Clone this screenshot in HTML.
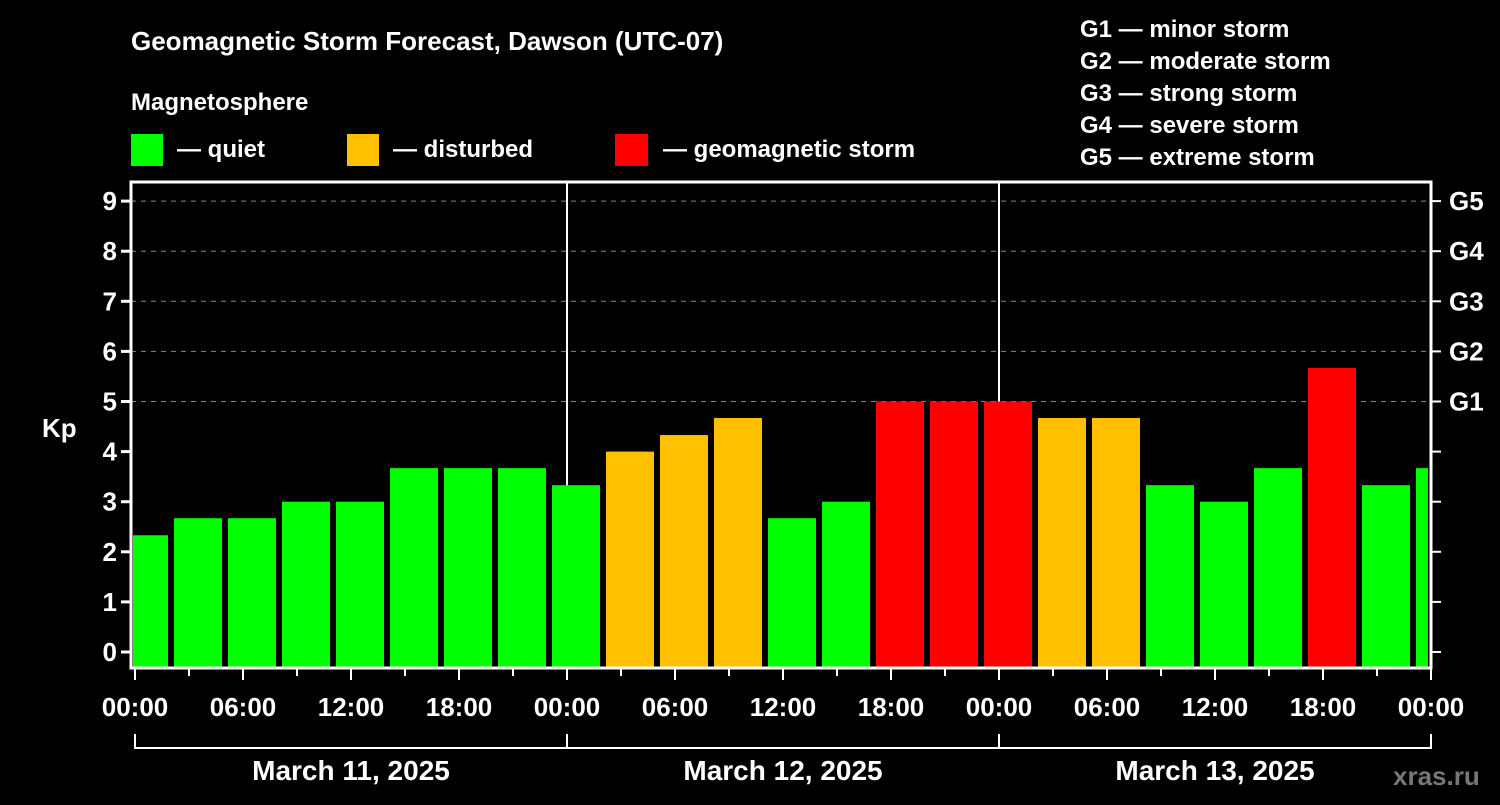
<!DOCTYPE html>
<html><head><meta charset="utf-8"><style>
body{margin:0;background:#000;width:1500px;height:800px;overflow:hidden}
svg{font-family:"Liberation Sans",sans-serif;font-weight:bold}
</style></head><body>
<svg id="c" width="1500" height="800">
<text x="131" y="50" fill="#fff" font-size="26">Geomagnetic Storm Forecast, Dawson (UTC-07)</text>
<text x="131" y="110" fill="#fff" font-size="24">Magnetosphere</text>
<g><rect x="131" y="134" width="32" height="32" fill="#00ff00"/><text x="177" y="157" fill="#fff" font-size="24">— quiet</text></g>
<g><rect x="347" y="134" width="32" height="32" fill="#ffc000"/><text x="393" y="157" fill="#fff" font-size="24">— disturbed</text></g>
<g><rect x="615" y="134" width="33" height="32" fill="#ff0000"/><text x="663" y="157" fill="#fff" font-size="24">— geomagnetic storm</text></g>
<g fill="#fff" font-size="24">
<text x="1080" y="37">G1 — minor storm</text><text x="1080" y="69">G2 — moderate storm</text><text x="1080" y="101">G3 — strong storm</text><text x="1080" y="133">G4 — severe storm</text><text x="1080" y="165">G5 — extreme storm</text></g>
<text x="42" y="437" fill="#fff" font-size="26">Kp</text>
<text x="1393" y="785" fill="#777" font-size="26">xras.ru</text>
<g id="grid"></g><g id="bars"></g><g id="axes"></g>
</svg>
<script>
const kpValues=[2.33,2.67,2.67,3,3,3.67,3.67,3.67,3.33,4,4.33,4.67,2.67,3,5,5,5,4.67,4.67,3.33,3,3.67,5.67,3.33,3.67];
const yTicks=[0,1,2,3,4,5,6,7,8,9];
const gLabels=["G1","G2","G3","G4","G5"];
const xTickLabels=["00:00","06:00","12:00","18:00","00:00","06:00","12:00","18:00","00:00","06:00","12:00","18:00","00:00"];
const dayLabels=["March 11, 2025","March 12, 2025","March 13, 2025"];
const NS="http://www.w3.org/2000/svg";
const X=h=>135+h*18, Y=v=>652-v*50.1;
const L=131,R=1431,T=182,B=668;
function mk(p,t,a){const e=document.createElementNS(NS,t);for(const k in a)e.setAttribute(k,a[k]);p.appendChild(e);return e;}
const grid=document.getElementById('grid'),bars=document.getElementById('bars'),ax=document.getElementById('axes');
yTicks.forEach(v=>{if(v>=5){const l=mk(grid,'line',{x1:L,x2:R,y1:Y(v),y2:Y(v),stroke:'#888','stroke-dasharray':'5,5'});

}});
[24,48].forEach(h=>{const l=mk(grid,'line',{x1:X(h),x2:X(h),y1:T,y2:B,stroke:'#fff','stroke-width':2});

});
kpValues.forEach((v,k)=>{let x1=Math.max(X(-0.833+3*k),L+2),x2=Math.min(X(-0.833+3*k+2.667),R-3);
const c=v>=5?'#ff0000':v>=4?'#ffc000':'#00ff00';
const r=mk(bars,'rect',{x:x1,y:Y(v),width:x2-x1,height:B-Y(v),fill:c});

});
mk(ax,'rect',{x:L,y:T,width:R-L,height:B-T,fill:'none',stroke:'#fff','stroke-width':3});
yTicks.forEach(v=>{mk(ax,'line',{x1:L-10,x2:L,y1:Y(v),y2:Y(v),stroke:'#fff','stroke-width':3});
mk(ax,'line',{x1:R,x2:R+10,y1:Y(v),y2:Y(v),stroke:'#fff','stroke-width':2});
const t=mk(ax,'text',{x:L-14,y:Y(v)+9,fill:'#fff','font-size':26,'text-anchor':'end'});t.textContent=v;

});
gLabels.forEach((g,i)=>{const t=mk(ax,'text',{x:R+18,y:Y(5+i)+9,fill:'#fff','font-size':26});t.textContent=g;

});
for(let h=0;h<=72;h+=3){mk(ax,'line',{x1:X(h),x2:X(h),y1:B,y2:B+(h%6?8:12),stroke:'#fff','stroke-width':2});}
xTickLabels.forEach((s,i)=>{const t=mk(ax,'text',{x:X(i*6),y:716,fill:'#fff','font-size':26,'text-anchor':'middle'});t.textContent=s;

});
mk(ax,'path',{d:`M${X(0)},734V748H${X(72)}V734M${X(24)},734V748M${X(48)},734V748`,fill:'none',stroke:'#fff','stroke-width':2});
dayLabels.forEach((s,i)=>{const t=mk(ax,'text',{x:X(i*24+12),y:780,fill:'#fff','font-size':28,'text-anchor':'middle'});t.textContent=s;

});
</script>
</body></html>
